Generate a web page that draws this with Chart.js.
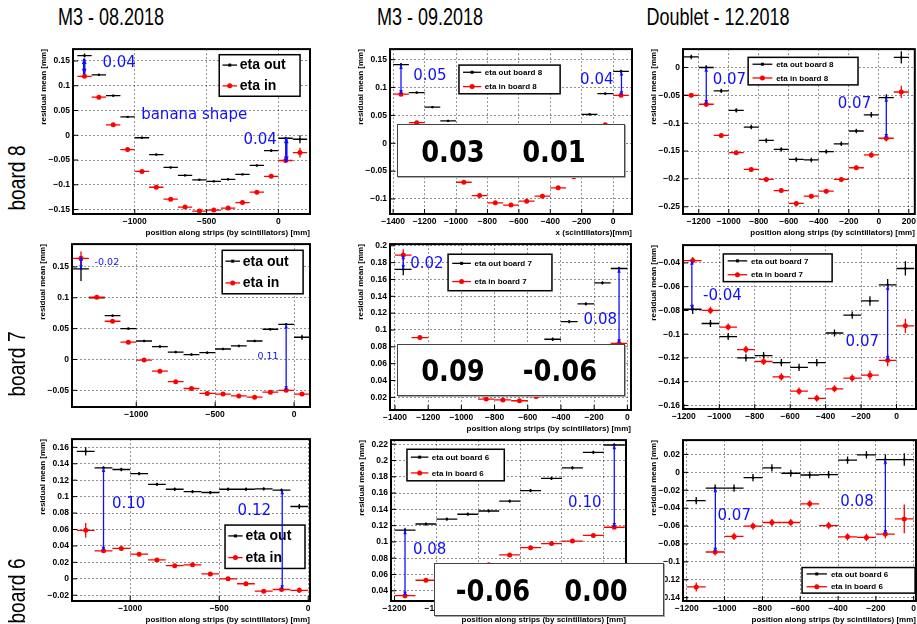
<!DOCTYPE html>
<html>
<head>
<meta charset="utf-8">
<script src="https://cdn.jsdelivr.net/npm/chart.js@4.4.0/dist/chart.umd.min.js"></script>
<style>
  body { margin: 0; background: #fff; }
  #page { position: relative; width: 917px; height: 624px; overflow: hidden; background: #fff; }
  canvas { position: absolute; }
  .head { position: absolute; top: 3px; font: 24px 'Liberation Sans', sans-serif; transform: translateX(-50%) scaleX(0.75); white-space: nowrap; }
  .row { position: absolute; font: 24px 'Liberation Sans', sans-serif; transform: translate(-50%, -50%) rotate(-90deg) scaleX(0.8); white-space: nowrap; }
  .res { position: absolute; background: #fff; border: 1px solid #444; box-shadow: 1px 1px 0 #aaa; }
  .res span { position: absolute; top: 50%; transform: translate(-50%, -50%) scaleX(0.86); font: bold 30px 'DejaVu Sans', sans-serif; white-space: nowrap; }
</style>
</head>
<body>
<div id="page"></div>
<script>
// ---- M3 08.2018 ----
const x8a = [-1350, -1250, -1150, -1050, -950, -850, -750, -650, -550, -450, -350, -250, -150, -50, 50, 150]
const out8a = [0.161, 0.122, 0.080, 0.037, -0.005, -0.039, -0.065, -0.081, -0.090, -0.093, -0.089, -0.079, -0.061, -0.031, -0.006, -0.008]
const in8a = [0.119, 0.077, 0.021, -0.029, -0.073, -0.105, -0.129, -0.145, -0.153, -0.151, -0.147, -0.136, -0.115, -0.083, -0.051, -0.035]
const eo8a = [0.004, 0.002, 0.002, 0.002, 0.002, 0.002, 0.002, 0.002, 0.002, 0.002, 0.002, 0.002, 0.002, 0.003, 0.003, 0.008]
const ei8a = [0.003, 0.002, 0.002, 0.002, 0.002, 0.002, 0.002, 0.002, 0.002, 0.002, 0.002, 0.002, 0.002, 0.002, 0.003, 0.010]

const x7a = [-1350, -1250, -1150, -1050, -950, -850, -750, -650, -550, -450, -350, -250, -150, -50, 50]
const out7a = [0.147, 0.100, 0.071, 0.050, 0.030, 0.021, 0.012, 0.008, 0.011, 0.017, 0.022, 0.030, 0.049, 0.057, 0.036]
const in7a = [0.164, 0.101, 0.062, 0.028, -0.001, -0.019, -0.036, -0.047, -0.055, -0.056, -0.059, -0.061, -0.053, -0.050, -0.056]
const eo7a = [0.020, 0.002, 0.002, 0.002, 0.002, 0.002, 0.002, 0.002, 0.002, 0.002, 0.002, 0.002, 0.002, 0.002, 0.004]
const ei7a = [0.011, 0.002, 0.002, 0.002, 0.002, 0.002, 0.002, 0.002, 0.002, 0.002, 0.002, 0.002, 0.002, 0.002, 0.003]

const x6a = [-1250, -1150, -1050, -950, -850, -750, -650, -550, -450, -350, -250, -150, -50]
const out6a = [0.155, 0.135, 0.133, 0.128, 0.115, 0.109, 0.106, 0.105, 0.109, 0.109, 0.1095, 0.108, 0.088]
const in6a = [0.059, 0.034, 0.037, 0.030, 0.023, 0.016, 0.017, 0.006, 0.000, -0.006, -0.015, -0.013, -0.014]
const eo6a = [0.005, 0.002, 0.002, 0.002, 0.002, 0.002, 0.002, 0.002, 0.002, 0.002, 0.002, 0.002, 0.003]
const ei6a = [0.009, 0.002, 0.002, 0.002, 0.002, 0.002, 0.002, 0.002, 0.002, 0.002, 0.002, 0.002, 0.003]

// ---- M3 09.2018 ----
const x8s = [-1350, -1250, -1150, -1050, -950, -850, -750, -650, -550, -450, -350, -250, -150, -50, 50]
const out8s = [0.141, 0.091, 0.065, 0.040, 0.010, -0.012, -0.030, -0.042, -0.046, -0.043, -0.030, 0.005, 0.052, 0.089, 0.129]
const in8s = [0.088, 0.037, -0.005, -0.040, -0.070, -0.094, -0.107, -0.111, -0.104, -0.095, -0.080, -0.060, -0.018, 0.033, 0.086]
const eo8s = [0.003, 0.002, 0.002, 0.002, 0.002, 0.002, 0.002, 0.002, 0.002, 0.002, 0.002, 0.002, 0.002, 0.002, 0.003]
const ei8s = [0.003, 0.002, 0.002, 0.002, 0.002, 0.002, 0.002, 0.002, 0.002, 0.002, 0.002, 0.002, 0.002, 0.002, 0.003]

const x7s = [-1350, -1250, -1150, -1050, -950, -850, -750, -650, -550, -450, -350, -250, -150, -50]
const out7s = [0.172, 0.075, 0.062, 0.052, 0.046, 0.044, 0.047, 0.055, 0.068, 0.089, 0.110, 0.131, 0.156, 0.173]
const in7s = [0.189, 0.091, 0.062, 0.042, 0.028, 0.018, 0.017, 0.016, 0.021, 0.030, 0.044, 0.058, 0.072, 0.084]
const eo7s = [0.007, 0.002, 0.002, 0.002, 0.002, 0.002, 0.002, 0.002, 0.002, 0.002, 0.002, 0.002, 0.002, 0.002]
const ei7s = [0.007, 0.002, 0.002, 0.002, 0.002, 0.002, 0.002, 0.002, 0.002, 0.002, 0.002, 0.002, 0.002, 0.002]

const x6s = [-1150, -1050, -950, -850, -750, -650, -550, -450, -350, -250, -150]
const out6s = [0.1145, 0.122, 0.128, 0.134, 0.138, 0.150, 0.163, 0.178, 0.191, 0.210, 0.219]
const in6s = [0.034, 0.053, 0.060, 0.067, 0.072, 0.084, 0.093, 0.098, 0.101, 0.108, 0.118]
const eo6s = [0.003, 0.002, 0.002, 0.002, 0.002, 0.002, 0.002, 0.002, 0.002, 0.002, 0.002]
const ei6s = [0.003, 0.002, 0.002, 0.002, 0.002, 0.002, 0.002, 0.002, 0.002, 0.002, 0.002]

// ---- Doublet 12.2018 ----
const x8d = [-1250, -1150, -1050, -950, -850, -750, -650, -550, -450, -350, -250, -150, -50, 50, 150]
const out8d = [0.019, 0.000, -0.042, -0.077, -0.107, -0.131, -0.147, -0.165, -0.166, -0.151, -0.137, -0.114, -0.085, -0.054, 0.018]
const in8d = [-0.050, -0.066, -0.122, -0.153, -0.183, -0.201, -0.221, -0.244, -0.231, -0.222, -0.201, -0.180, -0.157, -0.127, -0.044]
const eo8d = [0.004, 0.004, 0.004, 0.004, 0.004, 0.004, 0.004, 0.004, 0.004, 0.004, 0.004, 0.004, 0.005, 0.006, 0.011]
const ei8d = [0.004, 0.005, 0.004, 0.004, 0.004, 0.004, 0.004, 0.004, 0.004, 0.004, 0.004, 0.004, 0.005, 0.006, 0.011]

const x7d = [-1150, -1050, -950, -850, -750, -650, -550, -450, -350, -250, -150, -50, 50]
const out7d = [-0.079, -0.091, -0.102, -0.120, -0.118, -0.124, -0.128, -0.124, -0.099, -0.084, -0.072, -0.0585, -0.0447]
const in7d = [-0.038, -0.080, -0.094, -0.113, -0.123, -0.136, -0.148, -0.154, -0.146, -0.137, -0.1345, -0.122, -0.093]
const eo7d = [0.004, 0.003, 0.003, 0.003, 0.003, 0.003, 0.003, 0.003, 0.003, 0.003, 0.004, 0.005, 0.006]
const ei7d = [0.003, 0.003, 0.003, 0.003, 0.003, 0.003, 0.003, 0.003, 0.003, 0.003, 0.004, 0.005, 0.006]

const x6d = [-1150, -1050, -950, -850, -750, -650, -550, -450, -350, -250, -150, -50]
const out6d = [-0.0316, -0.0176, -0.0176, -0.006, 0.005, -0.001, -0.003, -0.0026, 0.0136, 0.0195, 0.0143, 0.0143]
const in6d = [-0.128, -0.089, -0.0716, -0.060, -0.056, -0.056, -0.0352, -0.0595, -0.072, -0.0727, -0.069, -0.052]
const eo6d = [0.004, 0.004, 0.004, 0.004, 0.004, 0.004, 0.004, 0.004, 0.004, 0.004, 0.006, 0.007]
const ei6d = [0.005, 0.004, 0.004, 0.004, 0.004, 0.004, 0.004, 0.004, 0.004, 0.004, 0.005, 0.016]

// tick labels
const xtLong = [-1000, -500, 0]
const xt1400 = [-1400, -1200, -1000, -800, -600, -400, -200, 0]
const xt1200 = [-1200, -1000, -800, -600, -400, -200, 0]
const xtDec8 = [-1200, -1000, -800, -600, -400, -200, 0, 200]
const xtSep6 = [-1200, -1000, -800, -600, -400, -200]
const yt8a = [-0.15, -0.1, -0.05, 0, 0.05, 0.1, 0.15]
const yt8s = [-0.1, -0.05, 0, 0.05, 0.1, 0.15]
const yt8d = [-0.25, -0.2, -0.15, -0.1, -0.05, 0]
const yt7a = [-0.05, 0, 0.05, 0.1, 0.15]
const yt7s = [0.02, 0.04, 0.06, 0.08, 0.1, 0.12, 0.14, 0.16, 0.18, 0.2]
const yt7d = [-0.16, -0.14, -0.12, -0.1, -0.08, -0.06, -0.04]
const yt6a = [-0.02, 0, 0.02, 0.04, 0.06, 0.08, 0.1, 0.12, 0.14, 0.16]
const yt6s = [0.04, 0.06, 0.08, 0.1, 0.12, 0.14, 0.16, 0.18, 0.2, 0.22]
const yt6d = [-0.14, -0.12, -0.1, -0.08, -0.06, -0.04, -0.02, 0, 0.02]

const POS = 'position along strips (by scintillators) [mm]'
const BLUE = '#1010ff'

const panels = [
  { plot: [73, 47, 310, 214], xr: [-1430, 220], yr: [-0.159, 0.174], xt: xtLong, yt: yt8a, xs: x8a, out: out8a, inn: in8a, eo: eo8a, ei: ei8a, xTitle: POS,
    leg: { box: [0.617, 0.034, 0.958, 0.286], size: 14, labels: ['eta out', 'eta in'] }, aw: 2.5,
    arrows: [[-1352, 0.155, 0.123], [55, -0.005, -0.054]],
    notes: [['0.04', -1109, 0.145, 15], ['banana shape', -586, 0.041, 15], ['0.04', -127, -0.010, 15]] },
  { plot: [390, 47, 632, 214], xr: [-1420, 120], yr: [-0.127, 0.169], xt: xt1400, yt: yt8s, xs: x8s, out: out8s, inn: in8s, eo: eo8s, ei: ei8s, xTitle: 'x (scintillators)[mm]',
    leg: { box: [0.285, 0.097, 0.703, 0.271], size: 8, labels: ['eta out board 8', 'eta in board 8'] }, aw: 1.3,
    arrows: [[-1350, 0.141, 0.088], [53, 0.129, 0.086]],
    notes: [['0.05', -1166, 0.121, 15], ['0.04', -104, 0.113, 15]] },
  { plot: [683, 47, 915, 214], xr: [-1305, 240], yr: [-0.263, 0.033], xt: xtDec8, yt: yt8d, xs: x8d, out: out8d, inn: in8d, eo: eo8d, ei: ei8d, xTitle: POS,
    leg: { box: [0.281, 0.05, 0.755, 0.217], size: 8, labels: ['eta out board 8', 'eta in board 8'] }, aw: 1.3,
    arrows: [[-1150, 0.0, -0.066], [50, -0.054, -0.127]],
    notes: [['0.07', -996, -0.023, 15], ['0.07', -162, -0.065, 15]] },
  { plot: [72, 242, 310, 407], xr: [-1407, 101], yr: [-0.077, 0.187], xt: xtLong, yt: yt7a, xs: x7a, out: out7a, inn: in7a, eo: eo7a, ei: ei7a, xTitle: '',
    leg: { box: [0.631, 0.038, 0.971, 0.305], size: 14, labels: ['eta out', 'eta in'] }, aw: 1.3,
    arrows: [[-1350, 0.167, 0.146], [-50, 0.057, -0.050]],
    notes: [['-0.02', -1186, 0.157, 9.5], ['0.11', -165, 0.004, 9.5]] },
  { plot: [390, 242, 631, 410], xr: [-1430, 22], yr: [0.005, 0.202], xt: xt1400, yt: yt7s, xs: x7s, out: out7s, inn: in7s, eo: eo7s, ei: ei7s, xTitle: POS,
    leg: { box: [0.241, 0.061, 0.672, 0.281], size: 8, labels: ['eta out board 7', 'eta in board 7'] }, aw: 1.3,
    arrows: [[-1350, 0.189, 0.172], [-50, 0.173, 0.084]],
    notes: [['0.02', -1208, 0.1785, 15], ['0.08', -163, 0.112, 15]] },
  { plot: [683, 243, 916, 409], xr: [-1205, 110], yr: [-0.163, -0.025], xt: xt1200, yt: yt7d, xs: x7d, out: out7d, inn: in7d, eo: eo7d, ei: ei7d, xTitle: '',
    leg: { box: [0.173, 0.054, 0.64, 0.223], size: 8, labels: ['eta out board 7', 'eta in board 7'] }, aw: 1.3,
    arrows: [[-1155, -0.038, -0.079], [-50, -0.059, -0.122]],
    notes: [['-0.04', -982, -0.0676, 15], ['0.07', -193, -0.107, 15]] },
  { plot: [72, 437, 310, 601], xr: [-1327, 10], yr: [-0.027, 0.17], xt: xtLong, yt: yt6a, xs: x6a, out: out6a, inn: in6a, eo: eo6a, ei: ei6a, xTitle: POS,
    leg: { box: [0.643, 0.531, 0.979, 0.799], size: 14, labels: ['eta out', 'eta in'] }, aw: 1.3,
    arrows: [[-1150, 0.135, 0.034], [-146, 0.108, -0.013]],
    notes: [['0.10', -1009, 0.091, 15], ['0.12', -303, 0.082, 15]] },
  { plot: [391, 438, 626, 601], xr: [-1217, -94], yr: [0.0275, 0.225], xt: xtSep6, yt: yt6s, xs: x6s, out: out6s, inn: in6s, eo: eo6s, ei: ei6s, xTitle: POS,
    leg: { box: [0.068, 0.057, 0.482, 0.253], size: 8, labels: ['eta out board 6', 'eta in board 6'] }, aw: 1.3,
    arrows: [[-1150, 0.1145, 0.034], [-150, 0.219, 0.118]],
    notes: [['0.08', -1032, 0.0903, 15], ['0.10', -291, 0.148, 15]] },
  { plot: [683, 438, 916, 601], xr: [-1220, 12], yr: [-0.1437, 0.036], xt: xt1200, yt: yt6d, xs: x6d, out: out6d, inn: in6d, eo: eo6d, ei: ei6d, xTitle: POS,
    leg: { box: [0.511, 0.792, 0.996, 0.951], size: 8, labels: ['eta out board 6', 'eta in board 6'] }, aw: 1.3,
    arrows: [[-1049, -0.0176, -0.089], [-150, 0.0143, -0.069]],
    notes: [['0.07', -949, -0.0488, 15], ['0.08', -300, -0.0334, 15]] },
]

const fmt = (v) => (v === 0 ? '0' : String(v).replace('-', '\u2212'))
const TICK_FONT = { family: "'Liberation Sans', Arial, sans-serif", size: 8.5, weight: 'bold' }
const TITLE_FONT = { family: "'Liberation Sans', Arial, sans-serif", size: 8, weight: 'bold' }

function arrowHead(ctx, x, y, dir, size) {
  ctx.beginPath()
  ctx.moveTo(x, y)
  ctx.lineTo(x - size * 0.6, y - dir * size * 1.4)
  ctx.lineTo(x + size * 0.6, y - dir * size * 1.4)
  ctx.closePath()
  ctx.fill()
}

const rootPlugin = {
  id: 'rootStyle',
  beforeDatasetsDraw(chart) {
    const p = chart.options.plugins.rootStyle.panel
    const { ctx, chartArea: a, scales: { x, y } } = chart
    ctx.save()
    ctx.beginPath()
    ctx.rect(a.left, a.top, a.right - a.left, a.bottom - a.top)
    ctx.clip()
    const series = [[p.out, p.eo, '#000'], [p.inn, p.ei, '#f00']]
    series.forEach(([vals, errs, color]) => {
      ctx.strokeStyle = color
      ctx.lineWidth = 1.3
      vals.forEach((v, i) => {
        const px = x.getPixelForValue(p.xs[i])
        const py = y.getPixelForValue(v)
        ctx.beginPath()
        ctx.moveTo(x.getPixelForValue(p.xs[i] - 50), py)
        ctx.lineTo(x.getPixelForValue(p.xs[i] + 50), py)
        ctx.moveTo(px, y.getPixelForValue(v - errs[i]))
        ctx.lineTo(px, y.getPixelForValue(v + errs[i]))
        ctx.stroke()
      })
    })
    ctx.restore()
  },
  afterDatasetsDraw(chart) {
    const p = chart.options.plugins.rootStyle.panel
    const { ctx, chartArea: a, scales: { x, y } } = chart
    const W = a.right - a.left
    const H = a.bottom - a.top

    // inner tick marks
    ctx.save()
    ctx.strokeStyle = '#000'
    ctx.lineWidth = 1
    ctx.beginPath()
    p.xt.forEach((v) => {
      const px = x.getPixelForValue(v)
      ctx.moveTo(px, a.bottom)
      ctx.lineTo(px, a.bottom - 5)
    })
    p.yt.forEach((v) => {
      const py = y.getPixelForValue(v)
      ctx.moveTo(a.left, py)
      ctx.lineTo(a.left + 5, py)
    })
    ctx.stroke()

    // frame
    ctx.lineWidth = 2
    ctx.strokeRect(a.left, a.top, W, H)

    // legend
    const L = p.leg
    const lx = a.left + L.box[0] * W
    const ly = a.top + L.box[1] * H
    const lw = (L.box[2] - L.box[0]) * W
    const lh = (L.box[3] - L.box[1]) * H
    ctx.fillStyle = '#fff'
    ctx.fillRect(lx, ly, lw, lh)
    ctx.lineWidth = 1.5
    ctx.strokeRect(lx, ly, lw, lh)
    ctx.font = `bold ${L.size}px 'Liberation Sans', Arial, sans-serif`
    ctx.textBaseline = 'middle'
    ctx.textAlign = 'left'
    ;['#000', '#f00'].forEach((color, i) => {
      const cy = ly + lh * (0.25 + 0.5 * i)
      const x0 = lx + lw * 0.04
      const x1 = lx + lw * 0.22
      ctx.strokeStyle = color
      ctx.lineWidth = 1.3
      ctx.beginPath()
      ctx.moveTo(x0, cy)
      ctx.lineTo(x1, cy)
      ctx.stroke()
      ctx.fillStyle = color
      const mx = (x0 + x1) / 2
      if (i === 0) ctx.fillRect(mx - 1.5, cy - 1.5, 3, 3)
      else {
        ctx.beginPath()
        ctx.arc(mx, cy, 2.5, 0, Math.PI * 2)
        ctx.fill()
      }
      ctx.fillStyle = '#000'
      ctx.fillText(L.labels[i], lx + lw * 0.255, cy + 0.5)
    })

    // blue arrows and notes
    ctx.strokeStyle = BLUE
    ctx.fillStyle = BLUE
    ctx.lineWidth = p.aw
    const hs = p.aw > 2 ? 4 : 3
    p.arrows.forEach(([ax, y1, y2]) => {
      const px = x.getPixelForValue(ax)
      const pa = y.getPixelForValue(y1)
      const pb = y.getPixelForValue(y2)
      ctx.beginPath()
      ctx.moveTo(px, pa)
      ctx.lineTo(px, pb)
      ctx.stroke()
      arrowHead(ctx, px, pa, -1, hs)
      arrowHead(ctx, px, pb, 1, hs)
    })
    ctx.textAlign = 'center'
    p.notes.forEach(([txt, nx, ny, size]) => {
      ctx.font = `${size}px 'DejaVu Sans', sans-serif`
      ctx.fillText(txt, x.getPixelForValue(nx), y.getPixelForValue(ny))
    })
    ctx.restore()
  },
}

function makePanel(p) {
  const padT = 6, padR = 4, yW = 34, xH = 24
  const [l, t, r, b] = p.plot
  const left = l - yW
  const top = t - padT
  const w = r + padR - left
  const h = b + xH - top
  const canvas = document.createElement('canvas')
  canvas.width = w
  canvas.height = h
  canvas.style.left = left + 'px'
  canvas.style.top = top + 'px'
  canvas.style.width = w + 'px'
  canvas.style.height = h + 'px'
  document.getElementById('page').appendChild(canvas)

  const gridOpts = { color: 'rgba(0,0,0,0.55)', lineWidth: 0.8, drawTicks: false }
  const borderOpts = { display: false, dash: [2, 2] }

  new Chart(canvas, {
    type: 'scatter',
    data: {
      datasets: [
        {
          label: 'eta in',
          data: p.xs.map((xv, i) => ({ x: xv, y: p.inn[i] })),
          backgroundColor: '#f00',
          borderColor: '#f00',
          pointStyle: 'circle',
          pointRadius: 2.5,
          borderWidth: 0,
        },
        {
          label: 'eta out',
          data: p.xs.map((xv, i) => ({ x: xv, y: p.out[i] })),
          backgroundColor: '#000',
          borderColor: '#000',
          pointStyle: 'rect',
          pointRadius: 1.5,
          borderWidth: 0,
        },
      ],
    },
    options: {
      responsive: false,
      animation: false,
      events: [],
      layout: { autoPadding: false, padding: { top: padT, right: padR, left: 0, bottom: 0 } },
      plugins: {
        legend: { display: false },
        tooltip: { enabled: false },
        rootStyle: { panel: p },
      },
      scales: {
        x: {
          type: 'linear',
          min: p.xr[0],
          max: p.xr[1],
          afterBuildTicks: (s) => { s.ticks = p.xt.map((v) => ({ value: v })) },
          afterFit: (s) => { s.height = xH },
          ticks: { font: TICK_FONT, color: '#000', padding: 3, maxRotation: 0, autoSkip: false, callback: fmt },
          grid: gridOpts,
          border: borderOpts,
          title: { display: !!p.xTitle, text: p.xTitle, align: 'end', font: TITLE_FONT, color: '#000', padding: 0 },
        },
        y: {
          type: 'linear',
          min: p.yr[0],
          max: p.yr[1],
          afterBuildTicks: (s) => { s.ticks = p.yt.map((v) => ({ value: v })) },
          afterFit: (s) => { s.width = yW },
          ticks: { font: TICK_FONT, color: '#000', padding: 3, autoSkip: false, callback: fmt },
          grid: gridOpts,
          border: borderOpts,
          title: { display: true, text: 'residual mean [mm]', align: 'end', font: TITLE_FONT, color: '#000', padding: 0 },
        },
      },
    },
    plugins: [rootPlugin],
  })
}

panels.forEach(makePanel)

const page = document.getElementById('page')
function addDiv(cls, text, css) {
  const d = document.createElement('div')
  d.className = cls
  d.textContent = text
  Object.assign(d.style, css)
  page.appendChild(d)
  return d
}

addDiv('head', 'M3 - 08.2018', { left: '111px' })
addDiv('head', 'M3 - 09.2018', { left: '430px' })
addDiv('head', 'Doublet - 12.2018', { left: '718px' })
addDiv('row', 'board 8', { left: '17px', top: '178px' })
addDiv('row', 'board 7', { left: '17px', top: '364px' })
addDiv('row', 'board 6', { left: '17px', top: '591px' })

function addResult(box, a, b) {
  const d = addDiv('res', '', { left: box[0] + 'px', top: box[1] + 'px', width: box[2] + 'px', height: box[3] + 'px' })
  ;[a, b].forEach(([txt, cx]) => {
    const s = document.createElement('span')
    s.textContent = txt
    s.style.left = (cx - box[0]) + 'px'
    d.appendChild(s)
  })
}
addResult([397, 124, 226, 51], ['0.03', 452], ['0.01', 553])
addResult([397, 344, 226, 50], ['0.09', 452], ['-0.06', 559])
addResult([434, 563, 228, 51], ['-0.06', 492], ['0.00', 595])
</script>
</body>
</html>
